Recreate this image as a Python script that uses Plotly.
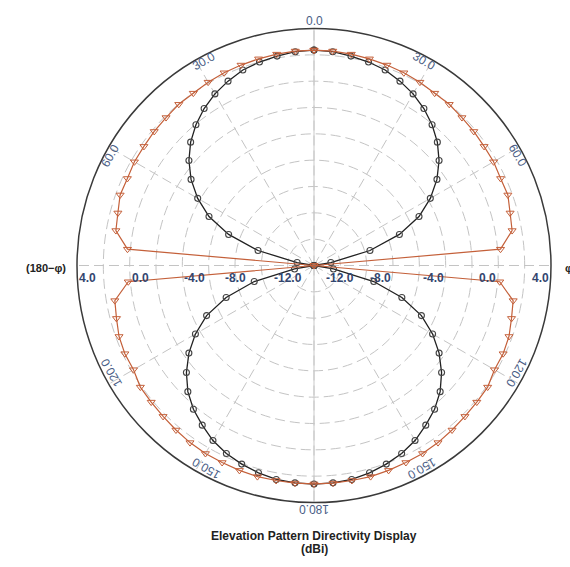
import numpy as np
import plotly.graph_objects as go

# Elevation cut, theta measured from zenith (0) to nadir (180) in 5-degree steps
THETA = list(range(0, 181, 5))

# Directivity in dBi for the two patterns (right half; left half is the 180-phi cut)
DIPOLE_DBI = [2.36, 2.30, 2.15, 2.00, 1.80, 1.45, 1.05, 0.55, -0.05, -0.75,
              -1.60, -2.60, -3.80, -5.20, -7.10, -9.60, -12.70, -20.0, -40.0, -20.0,
              -12.50, -9.30, -6.90, -5.00, -3.60, -2.40, -1.35, -0.45, 0.25, 0.80,
              1.35, 1.75, 2.05, 2.30, 2.50, 2.57, 2.60]
TOTAL_DBI = [2.36, 2.35, 2.30, 2.25, 2.20, 2.15, 2.08, 1.98, 1.98, 1.89,
             1.84, 1.77, 1.75, 1.64, 1.67, 1.42, 1.28, 0.22, -40.0, 0.16,
             1.36, 1.53, 1.76, 1.85, 1.83, 2.10, 2.14, 2.21, 2.31, 2.42,
             2.49, 2.51, 2.56, 2.60, 2.58, 2.59, 2.59]

R_MIN, R_MAX = -14.0, 4.0
RADIAL_GRID = list(range(-12, 5, 2))
RADIAL_LABELS = [4.0, 0.0, -4.0, -8.0, -12.0]
ANGLE_POS = [0, 30, 60, 120, 150, 180, 210, 240, 300, 330]
ANGLE_TEXT = ["0.0", "30.0", "60.0", "120.0", "150.0", "180.0", "150.0", "120.0", "60.0", "30.0"]

W, H = 570, 567
CX, CY, RPX = 314.0, 265.5, 237.0   # plot centre and outer radius in pixels


def full_circle(vals):
    """Right half 0..180 followed by the mirrored left half back to 360."""
    th = THETA + [360 - t for t in THETA[-2::-1]]
    r = list(vals) + list(vals)[-2::-1]
    return th, np.maximum(np.array(r), R_MIN)


def px_to_paper(x, y):
    return x / W, 1 - y / H


fig = go.Figure()

# vertical reference line through the pole
fig.add_trace(go.Scatterpolar(r=[R_MAX, R_MIN, R_MAX], theta=[0, 0, 180], mode="lines",
                              line=dict(color="#c9c9c9", width=1), hoverinfo="skip",
                              showlegend=False))

th, r = full_circle(DIPOLE_DBI)
fig.add_trace(go.Scatterpolar(r=r, theta=th, mode="lines+markers", showlegend=False,
                              line=dict(color="#222222", width=1.3),
                              marker=dict(symbol="circle-open", size=6,
                                          color="#444444", line=dict(width=1.1))))

th, r = full_circle(TOTAL_DBI)
fig.add_trace(go.Scatterpolar(r=r, theta=th, mode="lines+markers", showlegend=False,
                              line=dict(color="#c4603a", width=1.2),
                              marker=dict(symbol="triangle-down-open", size=7,
                                          color="#c4603a", line=dict(width=1))))

x0, y1 = px_to_paper(CX - RPX, CY - RPX)
x1, y0 = px_to_paper(CX + RPX, CY + RPX)

fig.update_layout(
    width=W, height=H,
    margin=dict(l=0, r=0, t=0, b=0),
    paper_bgcolor="white",
    polar=dict(
        domain=dict(x=[x0, x1], y=[y0, y1]),
        bgcolor="white",
        radialaxis=dict(range=[R_MIN, R_MAX], tickvals=RADIAL_GRID, showticklabels=False,
                        ticks="", showline=False, gridcolor="#c4c4c4", gridwidth=1,
                        griddash="10px,5px"),
        angularaxis=dict(rotation=90, direction="clockwise", tickvals=list(range(0, 360, 30)),
                         showticklabels=False, ticks="", showline=True,
                         linecolor="#3a3a3a", linewidth=1.5, gridcolor="#c4c4c4",
                         gridwidth=1, griddash="10px,5px"),
    ),
)

ann = []
scale = RPX / (R_MAX - R_MIN)

# radial value labels on both sides of the horizontal axis
for v in RADIAL_LABELS:
    d = (v - R_MIN) * scale
    for sgn in (-1, 1):
        x, y = px_to_paper(CX + sgn * d, CY + 12)
        ann.append(dict(x=x, y=y, xref="paper", yref="paper", text=f"<b>{v:.1f}</b>",
                        showarrow=False, font=dict(family="Liberation Sans", size=12,
                                                   color="#33466f")))

# tangential angle labels
for a, t in zip(ANGLE_POS, ANGLE_TEXT):
    rad = np.deg2rad(a)
    rr = RPX + 16
    x, y = px_to_paper(CX + rr * np.sin(rad), CY - rr * np.cos(rad))
    ann.append(dict(x=x, y=y, xref="paper", yref="paper", text=t, textangle=a,
                    showarrow=False, font=dict(family="Liberation Sans", size=12,
                                               color="#4a5d85")))

x, y = px_to_paper(68, CY + 2)
ann.append(dict(x=x, y=y, xref="paper", yref="paper", text="<b>(180−φ)</b>",
                xanchor="right", showarrow=False,
                font=dict(family="Liberation Sans", size=11, color="#222")))
x, y = px_to_paper(563, CY + 2)
ann.append(dict(x=x, y=y, xref="paper", yref="paper", text="<b>φ</b>", xanchor="left",
                showarrow=False, font=dict(family="Liberation Sans", size=11, color="#222")))

x, y = px_to_paper(CX, 545)
ann.append(dict(x=x, y=y, xref="paper", yref="paper",
                text="<b>Elevation Pattern Directivity Display</b>",
                showarrow=False, font=dict(family="Liberation Sans", size=12, color="#222")))
x, y = px_to_paper(CX, 558)
ann.append(dict(x=x, y=y, xref="paper", yref="paper", text="<b>(dBi)</b>",
                showarrow=False, font=dict(family="Liberation Sans", size=12, color="#222")))

fig.update_layout(annotations=ann)
fig.write_html("out.html")
